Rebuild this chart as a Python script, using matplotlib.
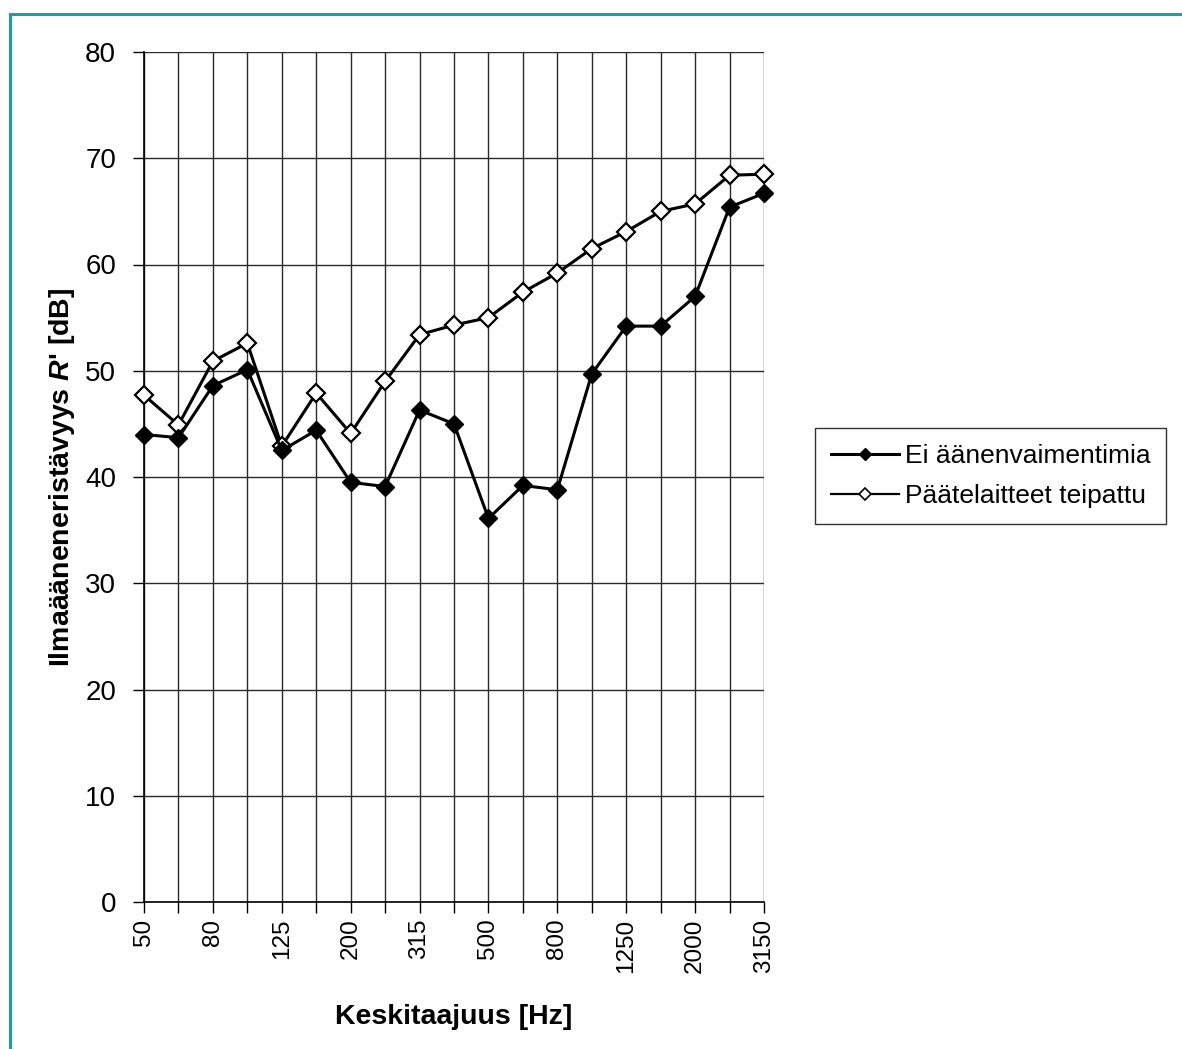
import matplotlib
matplotlib.use("Agg")
import matplotlib.pyplot as plt
from matplotlib.patches import Rectangle
from matplotlib.lines import Line2D

plt.rcParams['font.family'] = ['Liberation Sans', 'DejaVu Sans']
plt.rcParams['mathtext.fontset'] = 'custom'
plt.rcParams['mathtext.it'] = 'Liberation Sans:italic:bold'
plt.rcParams['mathtext.rm'] = 'Liberation Sans:bold'

categories = ["50", "63", "80", "100", "125", "160", "200", "250", "315", "400",
              "500", "630", "800", "1000", "1250", "1600", "2000", "2500", "3150"]
ei_vaimentimia = [44.0, 43.7, 48.6, 50.1, 42.5, 44.4, 39.5, 39.1, 46.3, 45.0,
                  36.1, 39.2, 38.8, 49.7, 54.2, 54.2, 57.0, 65.4, 66.7]
teipattu = [47.7, 44.9, 50.9, 52.6, 42.9, 47.9, 44.1, 49.0, 53.4, 54.3,
            55.0, 57.4, 59.2, 61.5, 63.1, 65.0, 65.7, 68.4, 68.5]
series_labels = ["Ei äänenvaimentimia", "Päätelaitteet teipattu"]
y_ticks = [0, 10, 20, 30, 40, 50, 60, 70, 80]

W, H = 1182, 1049
fig = plt.figure(figsize=(W / 100, H / 100), dpi=100)
fig.patch.set_facecolor("white")

# teal frame
fig.patches.append(Rectangle((10 / W, -0.05), 1.2, 1 - 14 / H + 0.05,
                             transform=fig.transFigure, fill=False,
                             edgecolor="#17a39d", linewidth=2.2, zorder=0))

ax = fig.add_axes([144 / W, 1 - 902 / H, (764 - 144) / W, (902 - 52) / H])
x = list(range(len(categories)))

ax.plot(x, teipattu, color="black", lw=2.2, marker="D", ms=9.5,
        mfc="white", mec="black", mew=1.6, label=series_labels[1], zorder=3,
        clip_on=False)
ax.plot(x, ei_vaimentimia, color="black", lw=2.2, marker="D", ms=9.5,
        mfc="black", mec="black", mew=1.0, label=series_labels[0], zorder=4,
        clip_on=False)

ax.set_xlim(0, len(categories) - 1)
ax.set_ylim(0, 80)
ax.set_yticks(y_ticks)
ax.set_yticklabels([str(v) for v in y_ticks], fontsize=20)
ax.set_xticks(x)
ax.set_xticklabels([c if i % 2 == 0 else "" for i, c in enumerate(categories)],
                   rotation=90, fontsize=17.5)
ax.tick_params(axis="both", direction="out", length=8, width=1, color="black")
ax.tick_params(axis="y", pad=12)
ax.tick_params(axis="x", pad=4)

ax.grid(True, color="#2a2a2a", lw=1.0)
ax.set_axisbelow(True)
for s in ["top", "right"]:
    ax.spines[s].set_visible(False)
for s in ["left", "bottom"]:
    ax.spines[s].set_color("black")
    ax.spines[s].set_linewidth(1.2)

ax.set_xlabel("Keskitaajuus [Hz]", fontsize=20.5, fontweight="bold", labelpad=22)
ax.set_ylabel("Ilmaääneneristävyys $\\mathit{R}$' [dB]", fontsize=20.5,
              fontweight="bold", labelpad=6)

h1 = Line2D([], [], color="black", lw=2.2, marker="D", ms=6.5, mfc="black", mec="black")
h2 = Line2D([], [], color="black", lw=1.6, marker="D", ms=6.5, mfc="white", mec="black", mew=1.2)
leg = fig.legend([h1, h2], series_labels, loc="center left",
                 bbox_to_anchor=(815 / W, 1 - 476 / H), fontsize=19,
                 frameon=True, fancybox=False, edgecolor="black",
                 handlelength=2.6, handletextpad=0.2, borderpad=0.6,
                 labelspacing=0.6, borderaxespad=0)
leg.get_frame().set_linewidth(1.0)

fig.savefig("out.png", dpi=100)
